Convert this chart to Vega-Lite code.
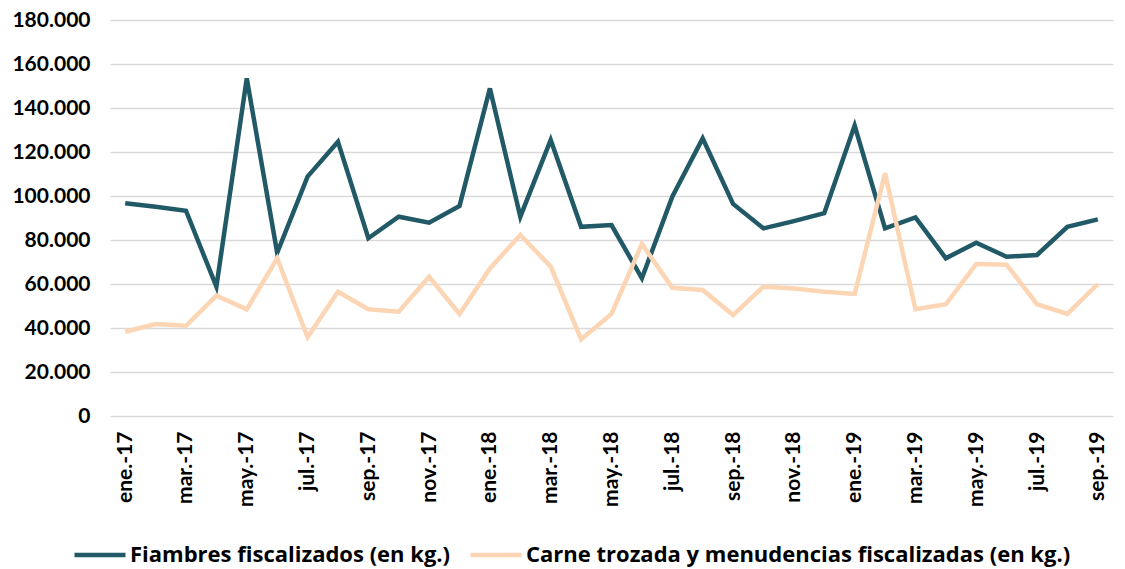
{
  "$schema": "https://vega.github.io/schema/vega-lite/v6.json",
  "width": 1003,
  "height": 396,
  "autosize": "none",
  "padding": {"left": 110, "top": 20, "right": 12, "bottom": 153},
  "background": "white",
  "config": {
    "font": "Lato",
    "view": {"stroke": null}
  },
  "data": {
    "values": [
      {"mes": "ene.-17", "serie": "Fiambres fiscalizados (en kg.)", "kg": 96700},
      {"mes": "feb.-17", "serie": "Fiambres fiscalizados (en kg.)", "kg": 95100},
      {"mes": "mar.-17", "serie": "Fiambres fiscalizados (en kg.)", "kg": 93300},
      {"mes": "abr.-17", "serie": "Fiambres fiscalizados (en kg.)", "kg": 58800},
      {"mes": "may.-17", "serie": "Fiambres fiscalizados (en kg.)", "kg": 153500},
      {"mes": "jun.-17", "serie": "Fiambres fiscalizados (en kg.)", "kg": 74200},
      {"mes": "jul.-17", "serie": "Fiambres fiscalizados (en kg.)", "kg": 108800},
      {"mes": "ago.-17", "serie": "Fiambres fiscalizados (en kg.)", "kg": 124700},
      {"mes": "sep.-17", "serie": "Fiambres fiscalizados (en kg.)", "kg": 80800},
      {"mes": "oct.-17", "serie": "Fiambres fiscalizados (en kg.)", "kg": 90600},
      {"mes": "nov.-17", "serie": "Fiambres fiscalizados (en kg.)", "kg": 87900},
      {"mes": "dic.-17", "serie": "Fiambres fiscalizados (en kg.)", "kg": 95500},
      {"mes": "ene.-18", "serie": "Fiambres fiscalizados (en kg.)", "kg": 148900},
      {"mes": "feb.-18", "serie": "Fiambres fiscalizados (en kg.)", "kg": 90600},
      {"mes": "mar.-18", "serie": "Fiambres fiscalizados (en kg.)", "kg": 125500},
      {"mes": "abr.-18", "serie": "Fiambres fiscalizados (en kg.)", "kg": 86000},
      {"mes": "may.-18", "serie": "Fiambres fiscalizados (en kg.)", "kg": 86800},
      {"mes": "jun.-18", "serie": "Fiambres fiscalizados (en kg.)", "kg": 62600},
      {"mes": "jul.-18", "serie": "Fiambres fiscalizados (en kg.)", "kg": 99700},
      {"mes": "ago.-18", "serie": "Fiambres fiscalizados (en kg.)", "kg": 126200},
      {"mes": "sep.-18", "serie": "Fiambres fiscalizados (en kg.)", "kg": 96400},
      {"mes": "oct.-18", "serie": "Fiambres fiscalizados (en kg.)", "kg": 85300},
      {"mes": "nov.-18", "serie": "Fiambres fiscalizados (en kg.)", "kg": 88600},
      {"mes": "dic.-18", "serie": "Fiambres fiscalizados (en kg.)", "kg": 92200},
      {"mes": "ene.-19", "serie": "Fiambres fiscalizados (en kg.)", "kg": 132000},
      {"mes": "feb.-19", "serie": "Fiambres fiscalizados (en kg.)", "kg": 85300},
      {"mes": "mar.-19", "serie": "Fiambres fiscalizados (en kg.)", "kg": 90300},
      {"mes": "abr.-19", "serie": "Fiambres fiscalizados (en kg.)", "kg": 71700},
      {"mes": "may.-19", "serie": "Fiambres fiscalizados (en kg.)", "kg": 78800},
      {"mes": "jun.-19", "serie": "Fiambres fiscalizados (en kg.)", "kg": 72400},
      {"mes": "jul.-19", "serie": "Fiambres fiscalizados (en kg.)", "kg": 73200},
      {"mes": "ago.-19", "serie": "Fiambres fiscalizados (en kg.)", "kg": 86000},
      {"mes": "sep.-19", "serie": "Fiambres fiscalizados (en kg.)", "kg": 89400},
      {"mes": "ene.-17", "serie": "Carne trozada y menudencias fiscalizadas (en kg.)", "kg": 38300},
      {"mes": "feb.-17", "serie": "Carne trozada y menudencias fiscalizadas (en kg.)", "kg": 41800},
      {"mes": "mar.-17", "serie": "Carne trozada y menudencias fiscalizadas (en kg.)", "kg": 41000},
      {"mes": "abr.-17", "serie": "Carne trozada y menudencias fiscalizadas (en kg.)", "kg": 54700},
      {"mes": "may.-17", "serie": "Carne trozada y menudencias fiscalizadas (en kg.)", "kg": 48500},
      {"mes": "jun.-17", "serie": "Carne trozada y menudencias fiscalizadas (en kg.)", "kg": 71700},
      {"mes": "jul.-17", "serie": "Carne trozada y menudencias fiscalizadas (en kg.)", "kg": 35800},
      {"mes": "ago.-17", "serie": "Carne trozada y menudencias fiscalizadas (en kg.)", "kg": 56500},
      {"mes": "sep.-17", "serie": "Carne trozada y menudencias fiscalizadas (en kg.)", "kg": 48500},
      {"mes": "oct.-17", "serie": "Carne trozada y menudencias fiscalizadas (en kg.)", "kg": 47400},
      {"mes": "nov.-17", "serie": "Carne trozada y menudencias fiscalizadas (en kg.)", "kg": 63300},
      {"mes": "dic.-17", "serie": "Carne trozada y menudencias fiscalizadas (en kg.)", "kg": 46400},
      {"mes": "ene.-18", "serie": "Carne trozada y menudencias fiscalizadas (en kg.)", "kg": 67100},
      {"mes": "feb.-18", "serie": "Carne trozada y menudencias fiscalizadas (en kg.)", "kg": 82300},
      {"mes": "mar.-18", "serie": "Carne trozada y menudencias fiscalizadas (en kg.)", "kg": 67900},
      {"mes": "abr.-18", "serie": "Carne trozada y menudencias fiscalizadas (en kg.)", "kg": 34900},
      {"mes": "may.-18", "serie": "Carne trozada y menudencias fiscalizadas (en kg.)", "kg": 46400},
      {"mes": "jun.-18", "serie": "Carne trozada y menudencias fiscalizadas (en kg.)", "kg": 78200},
      {"mes": "jul.-18", "serie": "Carne trozada y menudencias fiscalizadas (en kg.)", "kg": 58300},
      {"mes": "ago.-18", "serie": "Carne trozada y menudencias fiscalizadas (en kg.)", "kg": 57300},
      {"mes": "sep.-18", "serie": "Carne trozada y menudencias fiscalizadas (en kg.)", "kg": 45900},
      {"mes": "oct.-18", "serie": "Carne trozada y menudencias fiscalizadas (en kg.)", "kg": 58800},
      {"mes": "nov.-18", "serie": "Carne trozada y menudencias fiscalizadas (en kg.)", "kg": 58000},
      {"mes": "dic.-18", "serie": "Carne trozada y menudencias fiscalizadas (en kg.)", "kg": 56500},
      {"mes": "ene.-19", "serie": "Carne trozada y menudencias fiscalizadas (en kg.)", "kg": 55500},
      {"mes": "feb.-19", "serie": "Carne trozada y menudencias fiscalizadas (en kg.)", "kg": 110300},
      {"mes": "mar.-19", "serie": "Carne trozada y menudencias fiscalizadas (en kg.)", "kg": 48500},
      {"mes": "abr.-19", "serie": "Carne trozada y menudencias fiscalizadas (en kg.)", "kg": 50800},
      {"mes": "may.-19", "serie": "Carne trozada y menudencias fiscalizadas (en kg.)", "kg": 69100},
      {"mes": "jun.-19", "serie": "Carne trozada y menudencias fiscalizadas (en kg.)", "kg": 68800},
      {"mes": "jul.-19", "serie": "Carne trozada y menudencias fiscalizadas (en kg.)", "kg": 50800},
      {"mes": "ago.-19", "serie": "Carne trozada y menudencias fiscalizadas (en kg.)", "kg": 46400},
      {"mes": "sep.-19", "serie": "Carne trozada y menudencias fiscalizadas (en kg.)", "kg": 60000}
    ]
  },
  "mark": {"type": "line", "strokeWidth": 4.5, "strokeJoin": "miter", "strokeCap": "butt"},
  "encoding": {
    "x": {
      "field": "mes",
      "type": "nominal",
      "sort": null,
      "scale": {"padding": 0.5},
      "axis": {
        "title": null,
        "values": ["ene.-17","mar.-17","may.-17","jul.-17","sep.-17","nov.-17","ene.-18","mar.-18","may.-18","jul.-18","sep.-18","nov.-18","ene.-19","mar.-19","may.-19","jul.-19","sep.-19"],
        "labelAngle": -90,
        "labelAlign": "right",
        "labelBaseline": "middle",
        "labelFontSize": 21,
        "labelFontWeight": "bold",
        "labelColor": "#000000",
        "labelPadding": 15,
        "labelOverlap": false,
        "ticks": false,
        "domain": false,
        "grid": false
      }
    },
    "y": {
      "field": "kg",
      "type": "quantitative",
      "scale": {"domain": [0, 180000], "nice": false},
      "axis": {
        "title": null,
        "values": [0,20000,40000,60000,80000,100000,120000,140000,160000,180000],
        "labelExpr": "replace(format(datum.value, ','), ',', '.')",
        "labelFontSize": 21,
        "labelFontWeight": "bold",
        "labelColor": "#000000",
        "labelPadding": 20,
        "labelOverlap": false,
        "ticks": false,
        "domain": false,
        "grid": true,
        "gridColor": "#D9D9D9",
        "gridWidth": 1.5
      }
    },
    "color": {
      "field": "serie",
      "type": "nominal",
      "sort": ["Fiambres fiscalizados (en kg.)", "Carne trozada y menudencias fiscalizadas (en kg.)"],
      "scale": {
        "domain": ["Fiambres fiscalizados (en kg.)", "Carne trozada y menudencias fiscalizadas (en kg.)"],
        "range": ["#215967", "#FCD5B4"]
      },
      "legend": {
        "title": null,
        "orient": "none",
        "direction": "horizontal",
        "legendX": -38,
        "legendY": 507,
        "labelFont": "Open Sans",
        "labelFontSize": 22,
        "labelFontWeight": "bold",
        "labelColor": "#000000",
        "symbolType": "stroke",
        "symbolSize": 2600,
        "symbolStrokeWidth": 4.5,
        "columnPadding": 10,
        "labelOffset": 2,
        "labelLimit": 700
      }
    }
  }
}
